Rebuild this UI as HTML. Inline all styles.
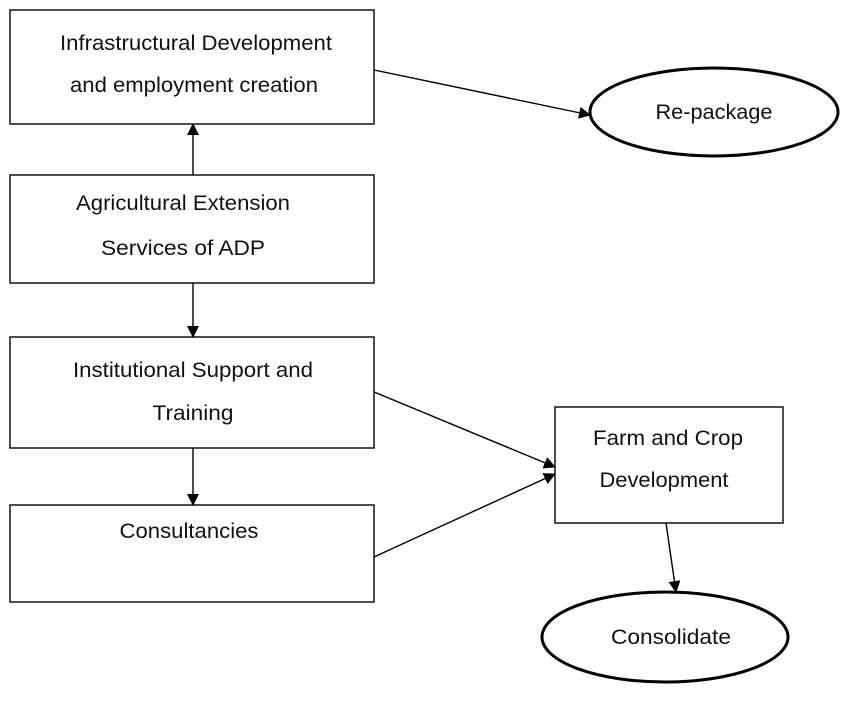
<!DOCTYPE html>
<html><head><style>
html,body{margin:0;padding:0;background:#fff;}
svg text{font-family:"Liberation Sans",Arial,sans-serif;font-size:21px;fill:#111;text-anchor:middle;}
</style></head><body>
<svg width="850" height="716" viewBox="0 0 850 716" xmlns="http://www.w3.org/2000/svg">
<defs><marker id="a" markerWidth="12" markerHeight="12" refX="11" refY="6" orient="auto" markerUnits="userSpaceOnUse"><path d="M0,0 L12,6 L0,12 z" fill="#000"/></marker></defs>
<g fill="#fff" stroke="#222" stroke-width="1.6">
<rect x="10" y="10" width="364" height="114"/>
<rect x="10" y="175" width="364" height="108"/>
<rect x="10" y="337" width="364" height="111"/>
<rect x="10" y="505" width="364" height="97"/>
<rect x="555" y="407" width="228" height="116"/>
</g>
<g fill="#fff" stroke="#000" stroke-width="3">
<ellipse cx="714" cy="112" rx="124" ry="44"/>
<ellipse cx="665" cy="637" rx="123" ry="45"/>
</g>
<g stroke="#000" stroke-width="1.4" marker-end="url(#a)">
<line x1="374" y1="70" x2="590" y2="115"/>
<line x1="193" y1="175" x2="193" y2="124"/>
<line x1="193" y1="283" x2="193" y2="337"/>
<line x1="193" y1="448" x2="193" y2="505"/>
<line x1="374" y1="392" x2="555" y2="467"/>
<line x1="374" y1="557" x2="555" y2="474"/>
<line x1="666" y1="523" x2="676" y2="592"/>
</g>
<g lengthAdjust="spacingAndGlyphs">
<text x="196" y="50" textLength="272" lengthAdjust="spacingAndGlyphs">Infrastructural Development</text>
<text x="194" y="92" textLength="248" lengthAdjust="spacingAndGlyphs">and employment creation</text>
<text x="183" y="210" textLength="214" lengthAdjust="spacingAndGlyphs">Agricultural Extension</text>
<text x="183" y="255" textLength="164" lengthAdjust="spacingAndGlyphs">Services of ADP</text>
<text x="193" y="377" textLength="240" lengthAdjust="spacingAndGlyphs">Institutional Support and</text>
<text x="193" y="420" textLength="81" lengthAdjust="spacingAndGlyphs">Training</text>
<text x="189" y="538" textLength="139" lengthAdjust="spacingAndGlyphs">Consultancies</text>
<text x="668" y="445" textLength="150" lengthAdjust="spacingAndGlyphs">Farm and Crop</text>
<text x="664" y="487" textLength="129" lengthAdjust="spacingAndGlyphs">Development</text>
<text x="714" y="119" textLength="117" lengthAdjust="spacingAndGlyphs">Re-package</text>
<text x="671" y="644" textLength="120" lengthAdjust="spacingAndGlyphs">Consolidate</text>
</g>
</svg>
</body></html>
